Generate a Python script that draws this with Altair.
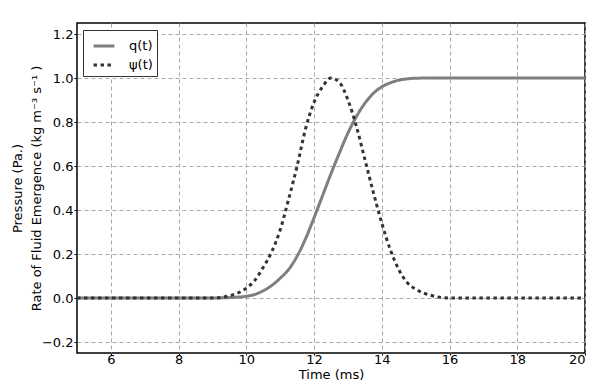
import altair as alt
import pandas as pd

# Time axis samples (ms)
t = [5, 6, 7, 8, 9, 9.5, 10, 10.25, 10.5, 10.75, 11, 11.25, 11.5, 11.75, 12,
     12.25, 12.5, 12.75, 13, 13.25, 13.5, 13.75, 14, 14.25, 14.5, 14.75, 15,
     15.5, 16, 17, 18, 19, 20]
# q(t): rate of fluid emergence (solid)
q = [0, 0, 0, 0, 0, 0.002, 0.008, 0.016, 0.033, 0.057, 0.09, 0.13, 0.19, 0.27, 0.365,
     0.465, 0.565, 0.66, 0.75, 0.825, 0.885, 0.93, 0.96, 0.978, 0.99, 0.996, 0.999,
     1.0, 1.0, 1.0, 1.0, 1.0, 1.0]
# psi(t): pressure (dotted)
psi = [0, 0, 0, 0, 0.0, 0.01, 0.045, 0.08, 0.14, 0.21, 0.31, 0.45, 0.60, 0.77, 0.89,
       0.96, 1.0, 0.98, 0.90, 0.78, 0.63, 0.48, 0.34, 0.22, 0.13, 0.07, 0.04,
       0.01, 0.0, 0.0, 0.0, 0.0, 0.0]

series_names = ["q(t)", "ψ(t)"]
x_ticks = [6, 8, 10, 12, 14, 16, 18, 20]
y_ticks = [-0.2, 0.0, 0.2, 0.4, 0.6, 0.8, 1.0, 1.2]

rows = []
for ti, qi, pi in zip(t, q, psi):
    rows.append({"t": ti, "v": qi, "s": series_names[0], "o": 0})
    rows.append({"t": ti, "v": pi, "s": series_names[1], "o": 1})
df = pd.DataFrame(rows)

font = "DejaVu Sans"

chart = alt.Chart(df).mark_line(interpolate="monotone", strokeWidth=3).encode(
    x=alt.X("t:Q", scale=alt.Scale(domain=[5, 20], nice=False, zero=False),
            axis=alt.Axis(values=x_ticks, title="Time (ms)", format="d",
                          grid=True, gridDash=[4, 3], gridColor="#a8a8a8", gridWidth=1,
                          tickSize=2, tickColor="black", labelPadding=-2,
                          labelFontSize=13, titleFontSize=13, titleFontWeight="normal",
                          labelColor="black", titleColor="black", titlePadding=2,
                          labelFont=font, titleFont=font, domain=False)),
    y=alt.Y("v:Q", scale=alt.Scale(domain=[-0.25, 1.25], nice=False, zero=False),
            axis=alt.Axis(values=y_ticks, format=".1f",
                          title=["Pressure (Pa.)", "Rate of Fluid Emergence (kg m⁻³ s⁻¹ )"],
                          grid=True, gridDash=[4, 3], gridColor="#a8a8a8", gridWidth=1,
                          tickSize=3, tickColor="black", labelPadding=1,
                          labelFontSize=13, titleFontSize=13, titleFontWeight="normal",
                          titleLineHeight=19,
                          labelColor="black", titleColor="black", titlePadding=-2,
                          labelFont=font, titleFont=font, domain=False)),
    color=alt.Color("s:N", scale=alt.Scale(domain=series_names, range=["#7f7f7f", "#333333"]),
                    legend=alt.Legend(title=None, orient="none", legendX=6, legendY=7,
                                      fillColor="white", strokeColor="#333333",
                                      padding=4, symbolOffset=5, symbolType="stroke",
                                      symbolSize=441,
                                      symbolStrokeWidth=3, labelFontSize=13,
                                      labelFont=font, labelColor="black",
                                      rowPadding=0, labelOffset=13, cornerRadius=0)),
    strokeDash=alt.StrokeDash("s:N", scale=alt.Scale(domain=series_names, range=[[1, 0], [3.5, 3.5]]),
                              legend=None),
    order=alt.Order("o:Q"),
).properties(
    width=508, height=330,
    padding={"left": 77, "top": 23, "right": 8, "bottom": 31},
    autosize=alt.AutoSizeParams(type="none"),
).configure(background="white").configure_view(stroke="black", strokeWidth=1.5)

chart.save("out.html", embed_options={"renderer": "svg", "actions": False})
